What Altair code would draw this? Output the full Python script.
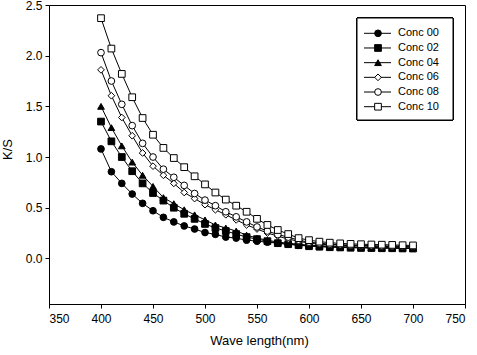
import altair as alt
import pandas as pd

wavelengths = list(range(400, 701, 10))
series_names = ["Conc 00", "Conc 02", "Conc 04", "Conc 06", "Conc 08", "Conc 10"]

conc00 = [1.08, 0.855, 0.74, 0.635, 0.543, 0.47, 0.405, 0.36, 0.32, 0.29, 0.255, 0.237, 0.21, 0.20, 0.18, 0.17,
          0.16, 0.15, 0.14, 0.13, 0.125, 0.12, 0.115, 0.112, 0.11, 0.108, 0.106, 0.105, 0.104, 0.103, 0.102]
conc02 = [1.35, 1.155, 1.00, 0.86, 0.74, 0.645, 0.57, 0.50, 0.44, 0.39, 0.34, 0.30, 0.27, 0.24, 0.21, 0.19,
          0.17, 0.15, 0.14, 0.13, 0.12, 0.115, 0.11, 0.108, 0.105, 0.103, 0.102, 0.10, 0.10, 0.098, 0.097]
conc04 = [1.50, 1.29, 1.11, 0.95, 0.82, 0.71, 0.60, 0.54, 0.48, 0.43, 0.38, 0.33, 0.30, 0.27, 0.23, 0.20,
          0.18, 0.16, 0.15, 0.14, 0.13, 0.125, 0.12, 0.115, 0.112, 0.11, 0.108, 0.106, 0.105, 0.104, 0.103]
conc06 = [1.86, 1.605, 1.39, 1.21, 1.04, 0.91, 0.82, 0.74, 0.65, 0.59, 0.53, 0.48, 0.43, 0.38, 0.33, 0.29,
          0.25, 0.22, 0.19, 0.17, 0.15, 0.14, 0.135, 0.13, 0.125, 0.122, 0.12, 0.118, 0.116, 0.115, 0.114]
conc08 = [2.03, 1.75, 1.52, 1.31, 1.135, 1.00, 0.88, 0.80, 0.72, 0.64, 0.575, 0.52, 0.46, 0.41, 0.36, 0.31,
          0.27, 0.235, 0.21, 0.18, 0.16, 0.15, 0.14, 0.135, 0.13, 0.128, 0.125, 0.123, 0.122, 0.12, 0.12]
conc10 = [2.37, 2.07, 1.82, 1.59, 1.385, 1.22, 1.09, 0.99, 0.90, 0.81, 0.73, 0.65, 0.58, 0.52, 0.46, 0.39,
          0.33, 0.28, 0.24, 0.20, 0.18, 0.165, 0.155, 0.148, 0.143, 0.14, 0.137, 0.135, 0.133, 0.13, 0.128]

shapes = ["circle", "square", "triangle-up", "diamond", "circle", "square"]
fills = ["black", "black", "black", "white", "white", "white"]

all_series = [conc00, conc02, conc04, conc06, conc08, conc10]
rows = []
for name, vals in zip(series_names, all_series):
    for w, v in zip(wavelengths, vals):
        rows.append({"wl": w, "ks": v, "series": name})
df = pd.DataFrame(rows)

FONT = "Liberation Sans"

x_enc = alt.X("wl:Q", scale=alt.Scale(domain=[350, 750], nice=False, zero=False),
              axis=alt.Axis(values=list(range(350, 751, 50)), title="Wave length(nm)",
                            titleX=210, titleY=40, titleBaseline="alphabetic", titleAlign="center"))
y_enc = alt.Y("ks:Q", scale=alt.Scale(domain=[-0.45, 2.5], nice=False, zero=False),
              axis=alt.Axis(values=[0, 0.5, 1.0, 1.5, 2.0, 2.5], format=".1f", title="K/S",
                            titleX=-38, titleY=144, titleAngle=270, titleBaseline="alphabetic",
                            titleAlign="center"))

shape_scale = alt.Scale(domain=series_names, range=shapes)
fill_scale = alt.Scale(domain=series_names, range=fills)

lines = alt.Chart(df).mark_line(color="black", strokeWidth=1).encode(
    x=x_enc, y=y_enc, detail="series:N")
points = alt.Chart(df).mark_point(filled=False, stroke="black", strokeWidth=1, size=45, opacity=1).encode(
    x=x_enc, y=y_enc,
    shape=alt.Shape("series:N", scale=shape_scale, legend=None),
    fill=alt.Fill("series:N", scale=fill_scale, legend=None))

data_layer = alt.layer(lines, points)

# manual legend
leg_df = pd.DataFrame({"series": series_names,
                       "ly": [28.3 + i * 14.68 for i in range(len(series_names))]})
ly_enc = alt.Y("ly:Q", scale=None, axis=None)
box = alt.Chart(leg_df).mark_rect(fill="white", stroke="black", strokeWidth=1).encode(
    x=alt.value(308), x2=alt.value(404), y=alt.value(13), y2=alt.value(115))
leg_lines = alt.Chart(leg_df).mark_rule(color="black", strokeWidth=1).encode(
    x=alt.value(315), x2=alt.value(342), y=ly_enc)
leg_points = alt.Chart(leg_df).mark_point(filled=False, stroke="black", strokeWidth=1, size=45, opacity=1).encode(
    x=alt.value(329), y=ly_enc,
    shape=alt.Shape("series:N", scale=shape_scale, legend=None),
    fill=alt.Fill("series:N", scale=fill_scale, legend=None))
leg_text = alt.Chart(leg_df).mark_text(align="left", baseline="middle", font=FONT, fontSize=11,
                                       color="black").encode(
    x=alt.value(349), y=ly_enc, text="series:N")
legend_layer = alt.layer(box, leg_lines, leg_points, leg_text)

chart = alt.layer(data_layer, legend_layer).resolve_scale(y="independent", x="independent").properties(
    width=416, height=299,
    autosize=alt.AutoSizeParams(type="none"),
    padding={"left": 49, "top": 5, "right": 12, "bottom": 51},
    background="white",
).configure_view(stroke="black", strokeWidth=1).configure_axis(
    grid=False, domainColor="black", tickColor="black", tickSize=4, labelFontSize=12,
    labelColor="black", labelFont=FONT, titleFont=FONT, titleFontSize=13, titleColor="black",
    titleFontWeight="normal", labelPadding=3, domainWidth=1, tickWidth=1
).configure_axisX(labelPadding=5)

chart.save("out.html", embed_options={"renderer": "svg", "actions": False})
